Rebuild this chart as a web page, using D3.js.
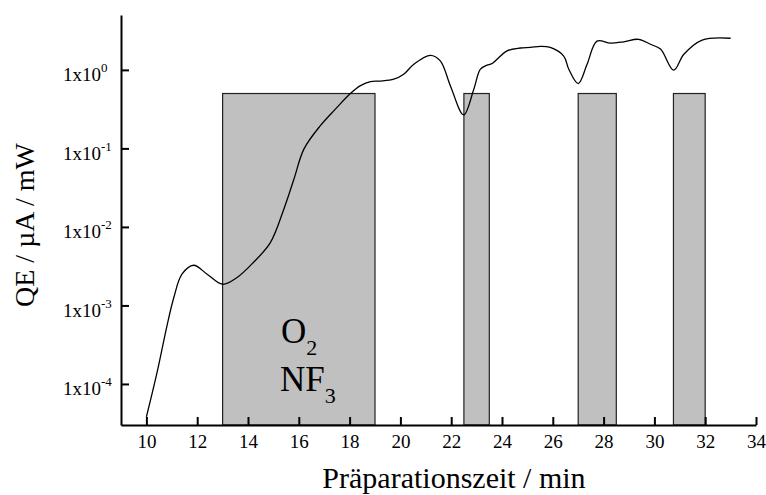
<!DOCTYPE html>
<html>
<head>
<meta charset="utf-8">
<script src="https://cdn.jsdelivr.net/npm/d3@7"></script>
<style>
  html, body { margin: 0; padding: 0; background: #fff; }
  svg { display: block; font-family: "Liberation Serif", "Times New Roman", serif; }
</style>
</head>
<body>
<svg id="chart" width="766" height="495"></svg>
<script>
// Quantum efficiency measured during the preparation
const timeMin = [10.0, 10.42, 10.81, 11.08, 11.4, 11.86, 12.39, 13.0, 13.57, 14.22, 14.88,
  15.41, 15.81, 16.2, 16.85, 17.44, 18.03, 18.43, 18.82, 19.21, 19.74, 20.13, 20.53,
  21.18, 21.57, 21.97, 22.49, 22.89, 23.15, 23.41, 23.6, 24.2, 24.72, 25.12, 25.51,
  25.9, 26.43, 26.63, 27.0, 27.35, 27.74, 28.27, 28.79, 29.38, 29.84, 30.24, 30.76,
  31.16, 31.88, 33.0];
const qeValues = [3.8e-5, 1.4e-4, 5.5e-4, 1.26e-3, 2.5e-3, 3.25e-3, 2.5e-3, 1.86e-3, 2.27e-3,
  3.55e-3, 6.3e-3, 1.68e-2, 4.07e-2, 0.098, 0.195, 0.316, 0.5, 0.63, 0.71, 0.72, 0.76,
  0.88, 1.18, 1.53, 1.30, 0.625, 0.267, 0.567, 1.02, 1.15, 1.2, 1.75, 1.9, 1.93, 1.99,
  1.93, 1.5, 1.02, 0.67, 1.18, 2.32, 2.19, 2.28, 2.45, 2.12, 1.84, 0.99, 1.58, 2.4, 2.53];

// Gas exposure intervals (O2 / NF3)
const gasStart = [13, 22.5, 27, 30.75];
const gasEnd = [19, 23.5, 28.5, 32];
const gasLevel = 0.5;

// Axis ticks
const xMajorTicks = [10, 12, 14, 16, 18, 20, 22, 24, 26, 28, 30, 32, 34];
const xMinorTicks = [11, 13, 15, 17, 19, 21, 23, 25, 27, 29, 31, 33];
const yMajorTicks = [1e-4, 1e-3, 1e-2, 1e-1, 1e0];
const yExponents = ["-4", "-3", "-2", "-1", "0"];

const svg = d3.select("#chart");
const plotLeft = 121, plotRight = 756, plotTop = 15, plotBottom = 425;

const x = d3.scaleLinear().domain([9, 34]).range([plotLeft, plotRight]);
const y = d3.scaleLog().domain([3e-5, 5]).range([plotBottom, plotTop]);

// minor log ticks 2..9 per decade inside the domain
const yMinorTicks = [];
for (let e = -5; e <= 0; e++) {
  for (let k = 2; k <= 9; k++) {
    const v = k * Math.pow(10, e);
    if (v >= 3e-5 && v <= 5.0001) yMinorTicks.push(v);
  }
}

// gas bars
svg.append("g").selectAll("rect")
  .data(gasStart.map((s, i) => ({ s, e: gasEnd[i] })))
  .join("rect")
  .attr("x", d => x(d.s))
  .attr("width", d => x(d.e) - x(d.s))
  .attr("y", y(gasLevel))
  .attr("height", y(3e-5) - y(gasLevel))
  .attr("fill", "#c0c0c0")
  .attr("stroke", "#222")
  .attr("stroke-width", 1.2);

// gas label
const gasLabel = svg.append("g").attr("fill", "#000").attr("font-size", 35);
const o2 = gasLabel.append("text").attr("x", 281).attr("y", 343);
o2.append("tspan").text("O");
o2.append("tspan").attr("font-size", 22).attr("dy", 12).text("2");
const nf3 = gasLabel.append("text").attr("x", 280).attr("y", 391);
nf3.append("tspan").text("NF");
nf3.append("tspan").attr("font-size", 22).attr("dy", 12).text("3");

// QE curve
const line = d3.line()
  .x((d, i) => x(timeMin[i]))
  .y(d => y(d))
  .curve(d3.curveCatmullRom.alpha(0.5));
svg.append("path")
  .attr("d", line(qeValues))
  .attr("fill", "none")
  .attr("stroke", "#000")
  .attr("stroke-width", 1.3);

// x axis
const gx = svg.append("g").attr("transform", `translate(0,${plotBottom})`);
gx.call(d3.axisBottom(x).tickValues(xMinorTicks).tickSize(-4).tickSizeOuter(0).tickFormat(""));
gx.call(d3.axisBottom(x).tickValues(xMajorTicks).tickSize(-8).tickSizeOuter(0).tickPadding(10)
  .tickFormat(d3.format("d")));
gx.selectAll("text").attr("font-size", 19).attr("font-family", "Liberation Serif").attr("fill", "#000");

// y axis
const gy = svg.append("g").attr("transform", `translate(${plotLeft},0)`);
gy.call(d3.axisLeft(y).tickValues(yMinorTicks).tickSize(-4).tickSizeOuter(0).tickFormat(""));
gy.call(d3.axisLeft(y).tickValues(yMajorTicks).tickSize(-8).tickSizeOuter(0).tickFormat(""));
gy.selectAll(".tick").filter(d => yMajorTicks.includes(d)).each(function (d) {
  const i = yMajorTicks.indexOf(d);
  const t = d3.select(this).append("text")
    .attr("x", 63 - plotLeft).attr("y", 11)
    .attr("text-anchor", "start")
    .attr("font-size", 19).attr("font-family", "Liberation Serif").attr("fill", "#000");
  t.append("tspan").text("1x10");
  t.append("tspan").attr("font-size", 13).attr("dy", -9).text(yExponents[i]);
});

svg.selectAll(".domain").attr("stroke", "#000").attr("stroke-width", 2);
svg.selectAll(".tick line").attr("stroke", "#000").attr("stroke-width", 2);

// axis titles
svg.append("text")
  .attr("x", 454).attr("y", 488)
  .attr("text-anchor", "middle").attr("font-size", 30)
  .text("Präparationszeit / min");
svg.append("text")
  .attr("transform", `translate(34,225) rotate(-90)`)
  .attr("text-anchor", "middle").attr("font-size", 28)
  .text("QE / µA / mW");
</script>
</body>
</html>
